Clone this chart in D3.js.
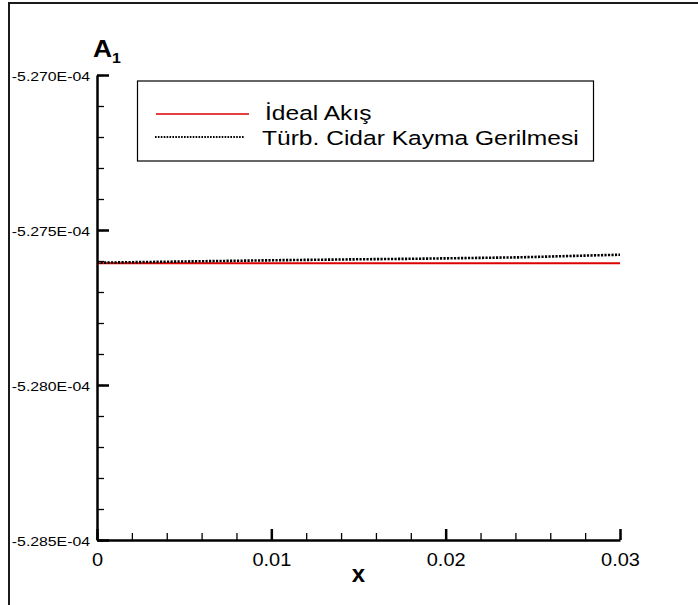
<!DOCTYPE html>
<html>
    <head>
        <meta charset="utf-8"/>
        <script src="https://cdnjs.cloudflare.com/ajax/libs/d3/7.8.5/d3.min.js"></script>
        <style>
            body { margin: 0; background: #fff; }
            text { font-family: "Liberation Sans", Arial, sans-serif; }
        </style>
    </head>
    <body>
        <script>
            // values
            const xTicks = [0, 0.01, 0.02, 0.03];
            const xTickLabels = ["0", "0.01", "0.02", "0.03"];
            const yTicks = [-5.270e-4, -5.275e-4, -5.280e-4, -5.285e-4];
            const yTickLabels = ["-5.270E-04", "-5.275E-04", "-5.280E-04", "-5.285E-04"];
            const seriesNames = ["İdeal Akış", "Türb. Cidar Kayma Gerilmesi"];

            const idealX = [0, 0.01, 0.02, 0.03];
            const idealY = [-5.27607e-4, -5.27607e-4, -5.27607e-4, -5.27607e-4];

            const turbX = [0, 0.005, 0.01, 0.015, 0.0185, 0.0243, 0.0271, 0.03];
            const turbY = [-5.276055e-4, -5.276016e-4, -5.275977e-4, -5.275945e-4,
                           -5.275926e-4, -5.275881e-4, -5.275839e-4, -5.275797e-4];

            const width = 698, height = 605;
            const margin = {top: 75, right: 78, bottom: 65, left: 97};

            const svg = d3.select("body").append("svg")
                .attr("width", width)
                .attr("height", height);

            // page frame (left + top only)
            svg.append("path")
                .attr("d", "M9,605V3H698")
                .attr("fill", "none")
                .attr("stroke", "#1a1a1a")
                .attr("stroke-width", 2);

            const x = d3.scaleLinear()
                .domain([0, 0.03])
                .range([margin.left, width - margin.right]);

            const y = d3.scaleLinear()
                .domain([-5.285e-4, -5.270e-4])
                .range([height - margin.bottom, margin.top]);

            // minor ticks
            const xMinor = d3.range(0, 16).map(i => i * 0.002);
            const yMinor = d3.range(0, 16).map(i => -5.285e-4 + i * 1e-7);

            svg.append("g")
                .attr("transform", `translate(0,${y.range()[0]})`)
                .call(d3.axisBottom(x).tickValues(xMinor).tickSizeInner(-7).tickSizeOuter(0).tickFormat(""))
                .call(g => g.select(".domain").remove())
                .call(g => g.selectAll("line").attr("stroke-width", 1.3));

            svg.append("g")
                .attr("transform", `translate(${x.range()[0]},0)`)
                .call(d3.axisLeft(y).tickValues(yMinor).tickSizeInner(-7).tickSizeOuter(0).tickFormat(""))
                .call(g => g.select(".domain").remove())
                .call(g => g.selectAll("line").attr("stroke-width", 1.3));

            // major axes
            svg.append("g")
                .attr("transform", `translate(0,${y.range()[0]})`)
                .call(d3.axisBottom(x).tickValues(xTicks).tickSizeInner(-11).tickSizeOuter(0)
                    .tickPadding(13).tickFormat((d, i) => xTickLabels[i]))
                .call(g => g.select(".domain").attr("stroke-width", 2.5))
                .call(g => g.selectAll("line").attr("stroke-width", 2.5))
                .call(g => g.selectAll("text")
                    .attr("font-size", 18.5)
                    .attr("fill", "#000")
                    .attr("transform", "scale(1.08,1)"));

            svg.append("g")
                .attr("transform", `translate(${x.range()[0]},0)`)
                .call(d3.axisLeft(y).tickValues(yTicks).tickSizeInner(-12).tickSizeOuter(0)
                    .tickPadding(7).tickFormat((d, i) => yTickLabels[i]))
                .call(g => g.select(".domain").attr("stroke-width", 2.5))
                .call(g => g.selectAll("line").attr("stroke-width", 2.5))
                .call(g => g.selectAll("text")
                    .attr("font-size", 13.4)
                    .attr("fill", "#000")
                    .attr("x", 0)
                    .attr("dy", "0.42em")
                    .attr("transform", "translate(-7,0) scale(1.18,1)"));

            // series
            const line = d3.line().x(d => x(d[0])).y(d => y(d[1]));

            svg.append("path")
                .datum(idealX.map((v, i) => [v, idealY[i]]))
                .attr("d", line)
                .attr("fill", "none")
                .attr("stroke", "#dd0000")
                .attr("stroke-width", 2);

            svg.append("path")
                .datum(turbX.map((v, i) => [v, turbY[i]]))
                .attr("d", line)
                .attr("fill", "none")
                .attr("stroke", "#000")
                .attr("stroke-width", 2.6)
                .attr("stroke-dasharray", "2.2,1.3");

            // axis titles
            const a1 = svg.append("text")
                .attr("transform", "translate(93,57) scale(1.1,1)")
                .attr("font-size", 24)
                .attr("font-weight", "bold");
            a1.append("tspan").text("A");
            a1.append("tspan").attr("font-size", 14.5).attr("dy", 6).text("1");

            svg.append("text")
                .attr("x", (x.range()[0] + x.range()[1]) / 2)
                .attr("y", 582)
                .attr("text-anchor", "middle")
                .attr("font-size", 24)
                .attr("font-weight", "bold")
                .text("x");

            // legend
            const legend = svg.append("g");
            legend.append("rect")
                .attr("x", 137.5).attr("y", 81)
                .attr("width", 456).attr("height", 80)
                .attr("fill", "#fff")
                .attr("stroke", "#000")
                .attr("stroke-width", 1.2);

            const legendStyle = [
                {stroke: "#dd0000", width: 1.6, dash: null, x1: 156, x2: 249},
                {stroke: "#000", width: 1.8, dash: "1.6,1.3", x1: 155, x2: 244}
            ];
            const legendRows = [114, 137];

            seriesNames.forEach((name, i) => {
                const s = legendStyle[i];
                legend.append("line")
                    .attr("x1", s.x1).attr("x2", s.x2)
                    .attr("y1", legendRows[i]).attr("y2", legendRows[i])
                    .attr("stroke", s.stroke)
                    .attr("stroke-width", s.width)
                    .attr("stroke-dasharray", s.dash);
                legend.append("text")
                    .attr("transform", `translate(${i === 0 ? 265 : 262},${legendRows[i] + (i === 0 ? 6 : 7.5)}) scale(1.26,1)`)
                    .attr("font-size", 19.5)
                    .text(name);
            });
        </script>
    </body>
</html>
